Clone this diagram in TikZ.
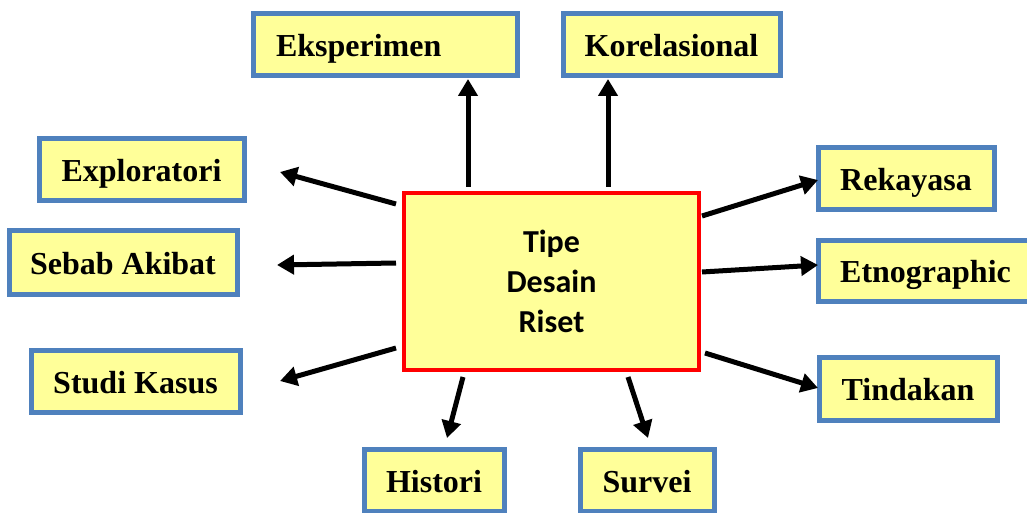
\documentclass[tikz,border=0pt]{standalone}
\usepackage{fontspec}
\usepackage{tikz}
\usetikzlibrary{arrows.meta,calc}
\setmainfont{Liberation Serif}
\newfontfamily\centerfont{Carlito}

\definecolor{boxfill}{HTML}{FFFF99}
\definecolor{boxblue}{HTML}{4F81BD}
\definecolor{boxred}{HTML}{FF0000}

\tikzset{
    tipebox/.style={draw=boxblue, line width=5pt, fill=boxfill, inner sep=0pt,
        font=\fontsize{32}{36}\selectfont\bfseries, text height=24pt, text depth=0pt},
    mainbox/.style={draw=boxred, line width=4.5pt, fill=boxfill, inner sep=0pt,
        align=center, font=\centerfont\fontsize{32}{40}\selectfont\bfseries},
    arr/.style={line width=5pt, -{Triangle[length=17pt,width=19pt]}}
}

\begin{document}
\begin{tikzpicture}[x=1pt, y=1pt]
            \useasboundingbox (0,0) rectangle (1027,512);
            \clip (0,0) rectangle (1027,512);

            \node[mainbox, minimum width=295pt, minimum height=177pt] (tipe) at (551.5,230.5) {Tipe\\Desain\\Riset};

            \node[tipebox, minimum height=62pt, text width=218pt, inner xsep=23pt, align=left] (eks) at (385,467) {Eksperimen};
            \node[tipebox, minimum width=217pt, minimum height=62pt] (kor) at (671.5,467) {Korelasional};
            \node[tipebox, minimum width=205pt, minimum height=62pt] (exp) at (141.5,342) {Exploratori};
            \node[tipebox, minimum width=228pt, minimum height=63pt] (seb) at (123,249.5) {Sebab Akibat};
            \node[tipebox, minimum width=209pt, minimum height=62pt] (stu) at (135.5,131) {Studi Kasus};
            \node[tipebox, minimum width=176pt, minimum height=62pt] (rek) at (906,333) {Rekayasa};
            \node[tipebox, minimum width=215pt, minimum height=61pt] (etn) at (925.5,241.5) {Etnographic};
            \node[tipebox, minimum width=178pt, minimum height=63pt] (tin) at (908,123.5) {Tindakan};
            \node[tipebox, minimum width=140pt, minimum height=62pt] (his) at (434,32) {Histori};
            \node[tipebox, minimum width=134pt, minimum height=62pt] (sur) at (647,32) {Survei};

            % arrows from the centre box
            \foreach \sx/\sy/\dest/\ex/\ey in {-83.5/94.5/eks/83/-34, 56.5/94.5/kor/-63.5/-34,
                    -155.5/77.5/exp/138.5/-2, -155.5/18.5/seb/154/-2.5, -155.5/-66.5/stu/144.5/0,
                    150.5/65.5/rek/-88/-1, 150.5/9.5/etn/-107.5/5.5, 153.5/-71.5/tin/-90/0.5,
                    -88.5/-95.5/his/13/42, 76.5/-95.5/sur/1/42}
                \draw[arr] ($(tipe.center)+(\sx,\sy)$) -- ($(\dest.center)+(\ex,\ey)$);
        \end{tikzpicture}
\end{document}
